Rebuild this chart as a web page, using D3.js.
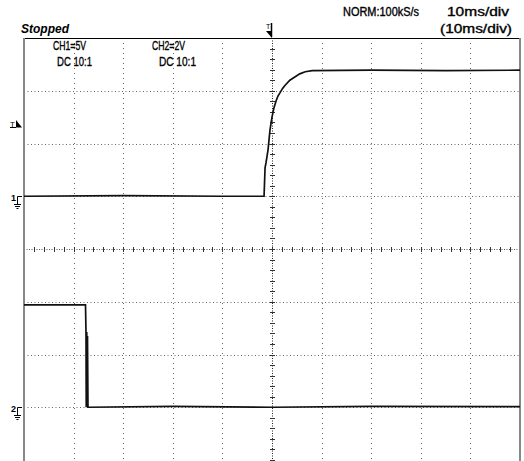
<!DOCTYPE html>
<html><head><meta charset="utf-8">
<script src="https://cdn.jsdelivr.net/npm/d3@7"></script>
<style>
html,body{margin:0;padding:0;background:#fff;}
svg{display:block;}
text{font-family:"Liberation Sans Narrow","Liberation Sans",Arial,sans-serif;fill:#000;}
</style></head>
<body>
<script>
// ---- data ----
const timeDivs = [-50,-40,-30,-20,-10,0,10,20,30,40,50];      // ms, 10 ms/div
const voltDivs = [-4,-3,-2,-1,0,1,2,3,4];                      // divisions
// CH1 (5 V/div, ground at +1 div)
const ch1Time = [-50,-30,-10,-1.6,-1.4,-1.2,-0.8,-0.4,0,0.4,0.8,1.2,1.6,2.1,2.6,3.6,4.6,5.6,6.7,8.1,20,35,50];
const ch1Volt = [0,0.05,0,0,2.7,3.2,4.4,6.3,7.5,8.4,9.0,9.5,9.8,10.2,10.5,11.0,11.3,11.6,11.8,11.9,11.95,11.9,11.95];
// CH2 (2 V/div, ground at -3 div)
const ch2Time = [-50,-37.6,-37.5,-37.45,-37.35,-37.3,-37.2,-37.1,-20,0,20,50];
const ch2Volt = [3.88,3.88,2.85,0,2.85,0,2.7,0,0.03,0,0.03,0.02];
const ch1Scale = 5, ch1Offset = 1;
const ch2Scale = 2, ch2Offset = -3;

const W = 524, H = 461;
const x = d3.scaleLinear().domain([-50,50]).range([24,520]);
const y = d3.scaleLinear().domain([-4,4]).range([460,38]);

const svg = d3.select("body").append("svg").attr("width",W).attr("height",H);

// grid
const g = svg.append("g");
timeDivs.filter(t=>t!==0 && Math.abs(t)<50).forEach(t=>{
  g.append("line").attr("x1",Math.round(x(t))+0.5).attr("x2",Math.round(x(t))+0.5).attr("y1",y(4)).attr("y2",y(-4))
   .attr("stroke","#666").attr("stroke-width",1).attr("stroke-dasharray","1,4");
});
voltDivs.filter(v=>v!==0 && Math.abs(v)<4).forEach(v=>{
  g.append("line").attr("x1",x(-50)).attr("x2",x(50)).attr("y1",Math.round(y(v))+0.5).attr("y2",Math.round(y(v))+0.5)
   .attr("stroke","#666").attr("stroke-width",1).attr("stroke-dasharray","1,2.5");
});
// center axes
g.append("line").attr("x1",x(-50)).attr("x2",x(50)).attr("y1",Math.round(y(0))+0.5).attr("y2",Math.round(y(0))+0.5)
 .attr("stroke","#555").attr("stroke-dasharray","1,1.5");
g.append("line").attr("x1",Math.round(x(0))+0.5).attr("x2",Math.round(x(0))+0.5).attr("y1",y(4)).attr("y2",y(-4))
 .attr("stroke","#222").attr("stroke-dasharray","1,1.5");
d3.range(-50,50.01,2).forEach(t=>{
  g.append("line").attr("x1",Math.round(x(t))+0.5).attr("x2",Math.round(x(t))+0.5)
   .attr("y1",Math.round(y(0))-2).attr("y2",Math.round(y(0))+3).attr("stroke","#333");
});
d3.range(-4,4.01,0.2).forEach(v=>{
  g.append("line").attr("x1",Math.round(x(0))-2).attr("x2",Math.round(x(0))+3)
   .attr("y1",Math.round(y(v))+0.5).attr("y2",Math.round(y(v))+0.5).attr("stroke","#333");
});

// frame
svg.append("line").attr("x1",x(-50)).attr("x2",x(50)+1).attr("y1",38.5).attr("y2",38.5).attr("stroke","#000");
svg.append("line").attr("x1",x(-50)).attr("x2",x(-50)).attr("y1",38).attr("y2",461).attr("stroke","#888").attr("stroke-width",2);
svg.append("line").attr("x1",x(50)).attr("x2",x(50)).attr("y1",38).attr("y2",461).attr("stroke","#888").attr("stroke-width",2);

// traces
const line = d3.line().curve(d3.curveLinear);
const p1 = ch1Time.map((t,i)=>[x(t), y(ch1Offset + ch1Volt[i]/ch1Scale)]);
const p2 = ch2Time.map((t,i)=>[x(t), y(ch2Offset + ch2Volt[i]/ch2Scale)]);
svg.append("path").attr("d",line(p1)).attr("fill","none").attr("stroke","#111").attr("stroke-width",1.7);
svg.append("path").attr("d",line(p2)).attr("fill","none").attr("stroke","#111").attr("stroke-width",1.7);

// ground markers
function ground(label, yy){
  yy = Math.round(yy);
  svg.append("text").attr("x",11).attr("y",yy+5).attr("font-size",9).attr("font-weight","bold").text(label);
  svg.append("path").attr("d",`M22,${yy+0.5}H17.5V${yy+8}M14,${yy+8.5}H21M15,${yy+10.5}H20M16.5,${yy+12.5}H18.5`)
   .attr("fill","none").attr("stroke","#000").attr("stroke-width",1);
}
ground("1", y(ch1Offset));
ground("2", y(ch2Offset));

// trigger level marker
svg.append("text").attr("x",10).attr("y",127).attr("font-size",8).text("T");
svg.append("path").attr("d","M10,127.5H16").attr("stroke","#000");
svg.append("path").attr("d","M16,120L22,127.5L16,127.5Z").attr("fill","#000");
// trigger position marker
svg.append("text").attr("x",266).attr("y",29).attr("font-size",7).text("T");
svg.append("path").attr("d","M271.5,23V37").attr("stroke","#000").attr("stroke-width",1.5);
svg.append("path").attr("d","M266,31L272,31L272,38Z").attr("fill","#000");

// texts
function txt(s,xx,yy,len,opts={}){
  const t = svg.append("text").attr("x",xx).attr("y",yy).attr("font-size",opts.size||13).text(s)
    .attr("textLength",len).attr("lengthAdjust","spacingAndGlyphs")
    .attr("stroke","#000").attr("stroke-width",opts.sw==null?0.35:opts.sw);
  if(opts.italic) t.attr("font-style","italic");
  if(opts.bold) t.attr("font-weight","bold");
}
txt("Stopped",21,33,48,{italic:true,bold:true,size:12,sw:0});
txt("CH1=5V",53,50,33);
txt("DC  10:1",57,66,35);
txt("CH2=2V",152,50,33);
txt("DC  10:1",159,66,37);
txt("NORM:100kS/s",343,16,76,{size:12});
txt("10ms/div",447,16,62,{size:12});
txt("(10ms/div)",440,33,72,{size:12});
</script>
</body></html>
